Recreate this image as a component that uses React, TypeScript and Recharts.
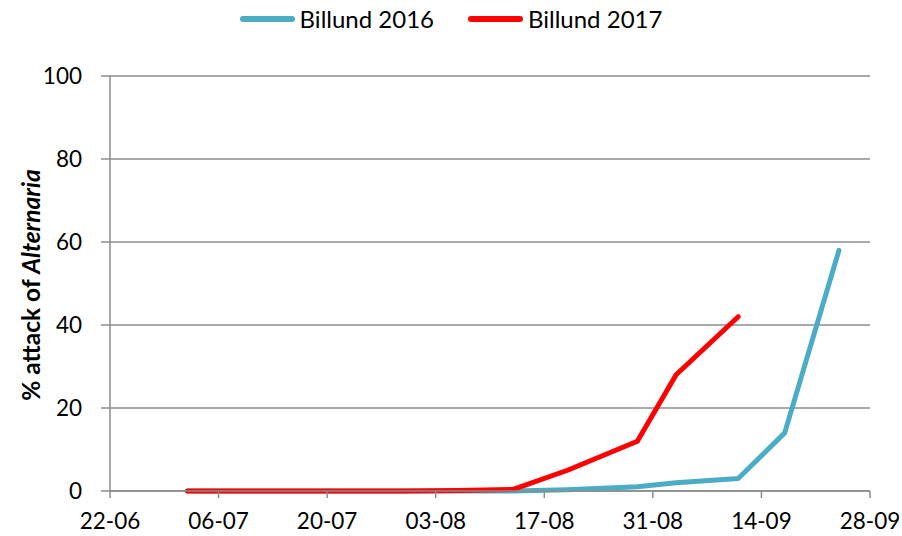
import React from 'react';
import { LineChart, Line, XAxis, YAxis, CartesianGrid } from 'recharts';

// day offsets from 22-06
const tickLabels = ['22-06', '06-07', '20-07', '03-08', '17-08', '31-08', '14-09', '28-09'];
const tickDays = [0, 14, 28, 42, 56, 70, 84, 98];
const yTicks = [0, 20, 40, 60, 80, 100];

const days2016 = [10, 17, 24, 31, 38, 45, 52, 59, 68, 73, 81, 87, 94];
const values2016 = [0, 0, 0, 0, 0, 0, 0, 0.3, 1, 2, 3, 14, 58];

const days2017 = [10, 17, 24, 31, 38, 45, 52, 59, 68, 73, 81];
const values2017 = [0, 0, 0, 0, 0, 0.1, 0.4, 5, 12, 28, 42];

const series = [
  { name: 'Billund 2016', color: '#4BACC6', data: days2016.map((d, i) => ({ day: d, value: values2016[i] })) },
  { name: 'Billund 2017', color: '#FF0000', data: days2017.map((d, i) => ({ day: d, value: values2017[i] })) },
];

const FONT = 'Lato, "Open Sans", sans-serif';
const AXIS = '#8c8c8c';

function YLabel() {
  return (
    <text
      x={0}
      y={0}
      transform="translate(30, 285) rotate(-90)"
      textAnchor="middle"
      dominantBaseline="central"
      fontFamily={FONT}
      fontSize={24.5}
      fontWeight="bold"
      fill="#000"
    >
      <tspan>% attack of </tspan>
      <tspan fontStyle="italic">Alternaria</tspan>
    </text>
  );
}

export default function App() {
  return (
    <div style={{ position: 'absolute', left: 0, top: 0, width: 902, height: 536, background: '#fff' }}>
      {/* Legend */}
      <div
        style={{
          position: 'absolute',
          top: 4,
          left: 0,
          width: 902,
          display: 'flex',
          justifyContent: 'center',
          gap: 34,
          fontFamily: FONT,
          fontSize: 24,
          color: '#000',
        }}
      >
        {series.map((s) => (
          <div key={s.name} style={{ display: 'flex', alignItems: 'center', gap: 5 }}>
            <span style={{ width: 55, height: 6, borderRadius: 3, background: s.color, display: 'inline-block' }} />
            <span>{s.name}</span>
          </div>
        ))}
      </div>
      <LineChart width={902} height={536} margin={{ top: 76, right: 32, bottom: 0, left: 0 }}>
        <CartesianGrid vertical={false} stroke={AXIS} strokeWidth={1.5} />
        <XAxis
          type="number"
          dataKey="day"
          domain={[0, 98]}
          ticks={tickDays}
          tickFormatter={(v) => tickLabels[tickDays.indexOf(v)]}
          height={45}
          axisLine={{ stroke: AXIS, strokeWidth: 1.5 }}
          tickLine={{ stroke: AXIS, strokeWidth: 1.5 }}
          tickSize={7}
          tick={{ fill: '#000', fontFamily: FONT, fontSize: 22.5, dy: 13 }}
          allowDuplicatedCategory={false}
        />
        <YAxis
          type="number"
          domain={[0, 100]}
          ticks={yTicks}
          width={110}
          axisLine={{ stroke: AXIS, strokeWidth: 1.5 }}
          tickLine={{ stroke: AXIS, strokeWidth: 1.5 }}
          tickSize={9}
          tick={{ fill: '#000', fontFamily: FONT, fontSize: 22.5, dx: -17 }}
          label={<YLabel />}
        />
        {series.map((s) => (
          <Line
            key={s.name}
            data={s.data}
            dataKey="value"
            name={s.name}
            stroke={s.color}
            strokeWidth={5}
            dot={false}
            activeDot={false}
            strokeLinecap="round"
            strokeLinejoin="round"
            isAnimationActive={false}
          />
        ))}
      </LineChart>
    </div>
  );
}
